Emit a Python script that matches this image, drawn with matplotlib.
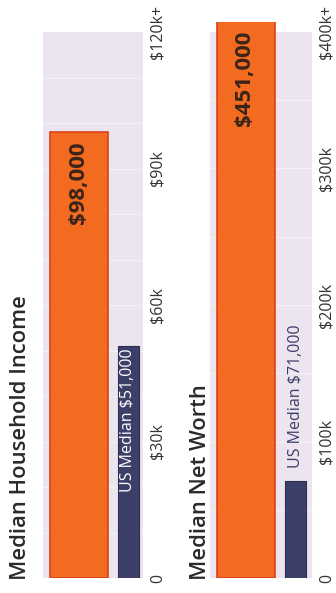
import matplotlib.pyplot as plt

plt.rcParams['font.family'] = ['Open Sans', 'DejaVu Sans']

titles = ["Median Household Income", "Median Net Worth"]
client_values = [98000, 451000]
us_values = [51000, 71000]
value_labels = ["$98,000", "$451,000"]
us_labels = ["US Median $51,000", "US Median $71,000"]
tick_values = [[0, 30000, 60000, 90000, 120000],
               [0, 100000, 200000, 300000, 400000]]
tick_labels = [["0", "$30k", "$60k", "$90k", "$120k+"],
               ["0", "$100k", "$200k", "$300k", "$400k+"]]
grid_steps = [10000, 50000]

ORANGE = "#f26b21"
ORANGE_EDGE = "#d9421a"
NAVY = "#3c3f68"
BG = "#ece4ee"
TEXT = "#2a2a2a"

W, H = 336, 593
fig = plt.figure(figsize=(W / 100, H / 100), dpi=100)

# panel layout in pixels: (left, width of shaded area, title x)
panels = [(43, 100, 21), (210, 102, 200)]
base_px, top_px = 578, 22

for i, (left, width, title_x) in enumerate(panels):
    ax = fig.add_axes([left / W, (H - base_px) / H, width / W, (base_px - top_px) / H])
    ax.set_facecolor("none")
    vmax = tick_values[i][-1]
    ymax = vmax * (base_px - top_px) / (base_px - 32)
    ax.set_ylim(0, ymax)
    ax.set_xlim(0, width)

    # shaded scale area with faint white bands
    ax.axhspan(0, vmax, color=BG, zorder=0, lw=0)
    y = grid_steps[i]
    while y < vmax:
        ax.axhline(y, color="white", lw=1, alpha=0.45, zorder=0.5)
        y += grid_steps[i]

    ax.bar(7 + 29, client_values[i], width=58, color=ORANGE,
           edgecolor=ORANGE_EDGE, linewidth=1.2, zorder=2)
    ax.bar(75 + 10.5, us_values[i], width=21, color=NAVY,
           edgecolor="#2c2f52", linewidth=0.8, zorder=2)

    px = ymax / (base_px - top_px)
    label_y = min(client_values[i], ymax) - 9 * px
    ax.text(35, label_y, value_labels[i], rotation=90, ha="center", va="top",
            fontsize=16, fontweight="bold", color="#3a2418", zorder=3)

    if i == 0:
        ax.text(85.5, us_values[i] - 2 * px, us_labels[i], rotation=90,
                ha="center", va="top", fontsize=11.5, color="white", zorder=3)
    else:
        ax.text(85.5, us_values[i] + 13 * px, us_labels[i], rotation=90,
                ha="center", va="bottom", fontsize=11.5, color=NAVY, zorder=3)

    ax.yaxis.tick_right()
    ax.set_yticks(tick_values[i])
    ax.set_yticklabels(tick_labels[i], rotation=90, va="center",
                       fontsize=11.5, color="#333333")
    ax.tick_params(axis="y", length=0, pad=5)
    ax.set_xticks([])
    for s in ax.spines.values():
        s.set_visible(False)

    fig.text(title_x / W, (H - 580) / H, titles[i], rotation=90,
             ha="center", va="bottom", fontsize=15.8, fontweight="semibold",
             color=TEXT)

fig.savefig("out.png", dpi=100, facecolor="white")
